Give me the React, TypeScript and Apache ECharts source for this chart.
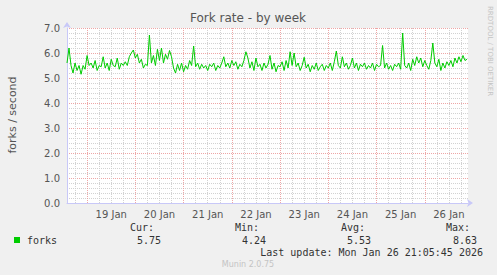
import React, { useEffect, useRef } from "react";
import * as echarts from "echarts";

// hours relative to 19 Jan 00:00; one sample per hour from -10 to 189
const startHour = -10;
const forks: number[] = [
  5.6, 6.2, 5.5, 5.2, 5.6, 5.3, 5.5, 5.15, 5.5, 5.35,
  5.9, 5.5, 5.6, 5.4, 5.7, 5.3, 5.5, 5.45, 5.85, 5.4,
  5.6, 5.3, 5.75, 5.5, 5.45, 5.8, 5.35, 5.6, 5.5, 5.65,
  5.5, 5.85, 6.0, 6.12, 5.8, 5.95, 5.6, 5.75, 5.4, 5.55,
  5.5, 6.72, 5.6, 5.9, 5.5, 6.15, 5.7, 6.2, 5.6, 5.95,
  5.75, 6.1, 5.85, 5.4, 5.2, 5.55, 5.3, 5.6, 5.25, 5.5,
  5.35, 5.7, 5.5, 6.28, 5.45, 5.6, 5.35, 5.55, 5.4, 5.5,
  5.3, 5.55, 5.45, 5.6, 5.3, 5.5, 5.4, 5.6, 5.85, 5.45,
  5.6, 5.4, 5.7, 5.5, 5.65, 5.35, 5.55, 5.45, 5.7, 6.05,
  5.8, 5.4, 5.65, 5.3, 5.8, 5.45, 5.55, 5.3, 5.6, 5.4,
  5.55, 5.9, 5.35, 5.6, 5.25, 5.5, 5.45, 5.65, 5.3, 5.7,
  5.4, 6.05, 5.5, 6.0, 5.45, 5.6, 5.3, 5.5, 5.83, 5.4,
  5.55, 5.25, 5.5, 5.35, 5.6, 5.3, 5.45, 5.55, 5.3, 5.5,
  5.4, 5.6, 5.3, 5.65, 6.08, 5.5, 5.4, 5.85, 5.45, 5.6,
  5.35, 5.5, 5.8, 5.4, 5.6, 5.3, 5.55, 5.45, 5.6, 5.35,
  5.5, 5.4, 5.6, 5.3, 5.55, 5.45, 5.5, 6.3, 5.4, 5.6,
  5.35, 5.5, 5.3, 5.55, 5.45, 5.6, 5.35, 6.8, 5.5, 5.4,
  5.6, 5.3, 5.75, 5.5, 5.85, 5.6, 5.8, 5.45, 5.7, 5.5,
  5.35, 5.7, 6.4, 5.6, 5.45, 5.75, 5.3, 5.6, 5.4, 5.65,
  5.5, 5.7, 5.45, 5.8, 5.6, 5.85, 5.65, 5.9, 5.7, 5.75,
];
const dayLabels: string[] = ["19 Jan", "20 Jan", "21 Jan", "22 Jan", "23 Jan", "24 Jan", "25 Jan", "26 Jan"];
const yTicks: number[] = [0, 1, 2, 3, 4, 5, 6, 7];
const legendName = "forks";
const statNames: string[] = ["Cur:", "Min:", "Avg:", "Max:"];
const statValues: string[] = ["5.75", "4.24", "5.53", "8.63"];
const titleText = "Fork rate - by week";
const yAxisName = "forks / second";
const lastUpdate = "Last update: Mon Jan 26 21:05:45 2026";
const footer = "Munin 2.0.75";
const sideText = "RRDTOOL / TOBI OETIKER";

const SANS = "'DejaVu Sans', sans-serif";
const MONO = "'DejaVu Sans Mono', monospace";
const MAJOR = "rgba(235,150,150,0.85)";
const MINOR = "rgba(205,205,205,0.9)";

export default function App() {
  const ref = useRef<HTMLDivElement>(null);
  useEffect(() => {
    if (!ref.current) return;
    const chart = echarts.init(ref.current, null, { renderer: "svg" });
    const seriesData = forks.map((v, i) => [startHour + i, v]);
    // 12 colors cycle over 2-hour split lines starting at -10h
    const xLineColors: string[] = [];
    for (let i = 0; i < 12; i++) {
      const h = (((startHour + 2 * i) % 24) + 24) % 24;
      if (h === 0) xLineColors.push(MAJOR);
      else if (h % 6 === 0) xLineColors.push(MINOR);
      else xLineColors.push("rgba(0,0,0,0)");
    }
    const statX = [154, 259, 365, 470];
    const valX = [161, 266, 371, 477];
    const graphics: any[] = [
      {
        type: "text", x: 248, y: 18,
        style: { text: titleText, fill: "#555", font: `12px ${SANS}`, textAlign: "center", textVerticalAlign: "middle" },
      },
      {
        type: "text", x: 12, y: 115, rotation: Math.PI / 2,
        style: { text: yAxisName, fill: "#555", font: `11px ${SANS}`, textAlign: "center", textVerticalAlign: "middle" },
      },
      {
        type: "text", x: 490, y: 6, rotation: -Math.PI / 2,
        style: { text: sideText, fill: "#c4c4c4", font: `7px ${SANS}`, textAlign: "left", textVerticalAlign: "middle" },
      },
      { type: "rect", shape: { x: 14, y: 237, width: 6, height: 6 }, style: { fill: "#00cc00" } },
      {
        type: "text", x: 27, y: 240,
        style: { text: legendName, fill: "#333", font: `10px ${MONO}`, textAlign: "left", textVerticalAlign: "middle" },
      },
      {
        type: "text", x: 483, y: 252,
        style: { text: lastUpdate, fill: "#333", font: `10px ${MONO}`, textAlign: "right", textVerticalAlign: "middle" },
      },
      {
        type: "text", x: 248, y: 264,
        style: { text: footer, fill: "#c4c4c4", font: `8px ${SANS}`, textAlign: "center", textVerticalAlign: "middle" },
      },
    ];
    statNames.forEach((s, i) => {
      graphics.push({
        type: "text", x: statX[i], y: 227,
        style: { text: s, fill: "#333", font: `10px ${MONO}`, textAlign: "right", textVerticalAlign: "middle" },
      });
      graphics.push({
        type: "text", x: valX[i], y: 240,
        style: { text: statValues[i], fill: "#333", font: `10px ${MONO}`, textAlign: "right", textVerticalAlign: "middle" },
      });
    });

    chart.setOption({
      animation: false,
      backgroundColor: "#f0f0f0",
      grid: {
        left: 67, right: 29, top: 28, bottom: 72,
        show: true, backgroundColor: "#ffffff", borderWidth: 0,
      },
      xAxis: {
        type: "value",
        min: startHour,
        max: 189.5,
        interval: 2,
        axisLine: {
          show: true, onZero: false,
          lineStyle: { color: "#c8c8f8", width: 1 },
          symbol: ["none", "arrow"], symbolSize: [6, 6], symbolOffset: [0, 5],
        },
        axisTick: { show: false },
        axisLabel: {
          color: "#555",
          fontFamily: SANS,
          fontSize: 10,
          margin: 6,
          formatter: (v: number) => {
            if ((v - 12) % 24 === 0) {
              const idx = (v - 12) / 24;
              return dayLabels[idx] ?? "";
            }
            return "";
          },
        },
        splitLine: { show: true, lineStyle: { color: xLineColors, type: [1, 1], width: 1 } },
      },
      yAxis: {
        type: "value",
        min: 0,
        max: 7,
        interval: 1,
        axisLine: {
          show: true, onZero: false,
          lineStyle: { color: "#c8c8f8", width: 1 },
          symbol: ["none", "arrow"], symbolSize: [6, 6], symbolOffset: [0, 6],
        },
        axisTick: { show: false },
        axisLabel: {
          color: "#555", fontFamily: SANS, fontSize: 10, margin: 7,
          formatter: (v: number) => (yTicks.includes(v) ? v.toFixed(1) : ""),
        },
        splitLine: { show: true, lineStyle: { color: MAJOR, type: [1, 1] } },
        minorTick: { show: false, splitNumber: 5 },
        minorSplitLine: { show: true, lineStyle: { color: MINOR, type: [1, 1] } },
      },
      series: [
        {
          type: "line",
          data: seriesData,
          showSymbol: false,
          symbol: "none",
          lineStyle: { color: "#00cc00", width: 1 },
          itemStyle: { color: "#00cc00" },
          z: 5,
        },
      ],
      graphic: graphics,
    });
    return () => chart.dispose();
  }, []);
  return <div ref={ref} style={{ position: "fixed", left: 0, top: 0, width: 497, height: 275 }} />;
}
